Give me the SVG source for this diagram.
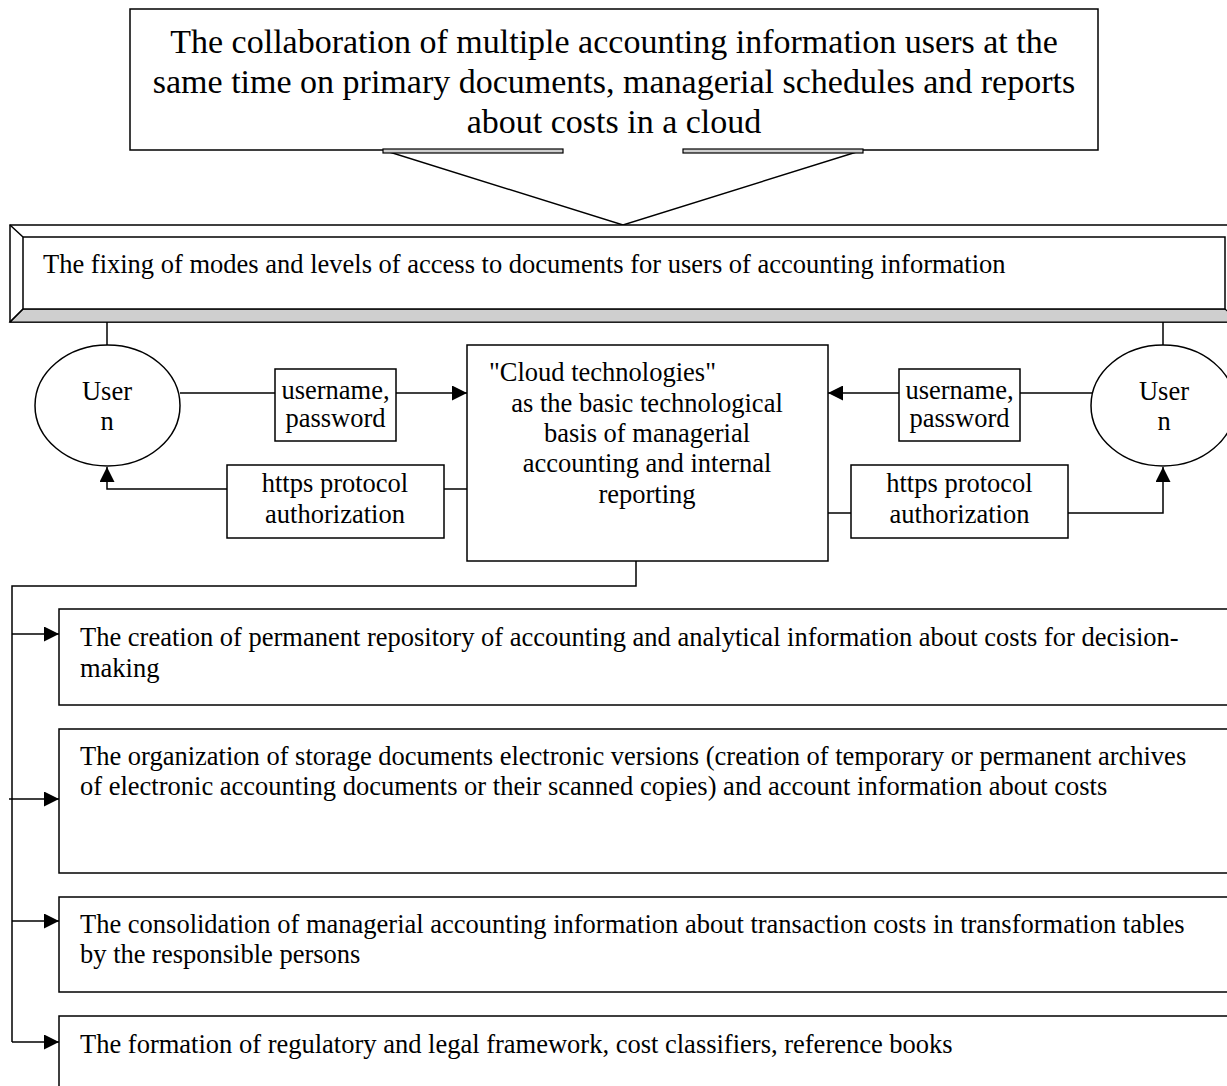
<svg xmlns="http://www.w3.org/2000/svg" width="1227" height="1086" viewBox="0 0 1227 1086">
<style>
  text { font-family: "Liberation Serif", "Times New Roman", serif; fill: #000; }
  .big { font-size: 34px; text-anchor: middle; }
  .body { font-size: 26.5px; }
  .mid { text-anchor: middle; }
  .box { fill: #fff; stroke: #000; stroke-width: 1.5; }
  .ln { fill: none; stroke: #000; stroke-width: 1.5; }
  .gray { fill: #cfcfcf; stroke: #000; stroke-width: 1.2; }
</style>
<defs>
  <marker id="arr" viewBox="0 0 15 15" refX="15" refY="7.5" markerWidth="15" markerHeight="15" markerUnits="userSpaceOnUse" orient="auto">
    <path d="M0,0 L15,7.5 L0,15 Z" fill="#000"/>
  </marker>
</defs>

<g id="callout">
  <path class="box" d="M130,9 H1098 V150 H863 L623,225 L383,150 H130 Z"/>
  <rect class="gray" x="383" y="149" width="180" height="4"/>
  <rect class="gray" x="683" y="149" width="180" height="4"/>
  <text class="big" x="614" y="53">The collaboration of multiple accounting information users at the</text>
  <text class="big" x="614" y="93">same time on primary documents, managerial schedules and reports</text>
  <text class="big" x="614" y="133">about costs in a cloud</text>
</g>

<g id="access">
  <rect class="box" x="10" y="225" width="1230" height="97"/>
  <path class="gray" d="M10,322 L23,309 H1225 L1240,322 Z"/>
  <rect class="box" x="23" y="237" width="1202" height="72"/>
  <path class="ln" d="M10,225 L23,237 M10,322 L23,309"/>
  <text class="body" x="43" y="273">The fixing of modes and levels of access to documents for users of accounting information</text>
</g>

<g id="connectors">
  <path class="ln" d="M107,322 V345"/>
  <path class="ln" d="M1163,322 V345"/>
  <path class="ln" d="M180,393 H275"/>
  <path class="ln" d="M396,393 H467" marker-end="url(#arr)"/>
  <path class="ln" d="M1092,393 H1020"/>
  <path class="ln" d="M899,393 H828" marker-end="url(#arr)"/>
  <path class="ln" d="M467,489 H444"/>
  <path class="ln" d="M227,489 H107 V467" marker-end="url(#arr)"/>
  <path class="ln" d="M828,513 H851"/>
  <path class="ln" d="M1068,513 H1163 V467" marker-end="url(#arr)"/>
  <path class="ln" d="M636,561 V586 H12 V1042"/>
  <path class="ln" d="M12,634 H59" marker-end="url(#arr)"/>
  <path class="ln" d="M9,799 H59" marker-end="url(#arr)"/>
  <path class="ln" d="M12,921 H59" marker-end="url(#arr)"/>
  <path class="ln" d="M12,1042 H59" marker-end="url(#arr)"/>
</g>

<g id="user-left">
  <ellipse class="box" cx="107.5" cy="405.5" rx="72.5" ry="60.5"/>
  <text class="body mid" x="107" y="400">User</text>
  <text class="body mid" x="107" y="430">n</text>
</g>

<g id="user-right">
  <ellipse class="box" cx="1163" cy="405.5" rx="72" ry="60.5"/>
  <text class="body mid" x="1164" y="400">User</text>
  <text class="body mid" x="1164" y="430">n</text>
</g>

<g id="login-left">
  <rect class="box" x="275" y="369" width="121" height="72"/>
  <text class="body mid" x="335.5" y="399">username,</text>
  <text class="body mid" x="335.5" y="427">password</text>
</g>

<g id="login-right">
  <rect class="box" x="899" y="369" width="121" height="72"/>
  <text class="body mid" x="959.5" y="399">username,</text>
  <text class="body mid" x="959.5" y="427">password</text>
</g>

<g id="https-left">
  <rect class="box" x="227" y="465" width="217" height="73"/>
  <text class="body mid" x="335" y="492">https protocol</text>
  <text class="body mid" x="335" y="523">authorization</text>
</g>

<g id="https-right">
  <rect class="box" x="851" y="465" width="217" height="73"/>
  <text class="body mid" x="959.5" y="492">https protocol</text>
  <text class="body mid" x="959.5" y="523">authorization</text>
</g>

<g id="cloud">
  <rect class="box" x="467" y="345" width="361" height="216"/>
  <text class="body" x="489" y="381">"Cloud technologies"</text>
  <text class="body mid" x="647" y="412">as the basic technological</text>
  <text class="body mid" x="647" y="442">basis of managerial</text>
  <text class="body mid" x="647" y="472">accounting and internal</text>
  <text class="body mid" x="647" y="503">reporting</text>
</g>

<g id="repository">
  <rect class="box" x="59" y="609" width="1180" height="96"/>
  <text class="body" x="80" y="646">The creation of permanent repository of accounting and analytical information about costs for decision-</text>
  <text class="body" x="80" y="677">making</text>
</g>

<g id="storage">
  <rect class="box" x="59" y="729" width="1180" height="144"/>
  <text class="body" x="80" y="765">The organization of storage documents electronic versions (creation of temporary or permanent archives</text>
  <text class="body" x="80" y="795">of electronic accounting documents or their scanned copies) and account information about costs</text>
</g>

<g id="consolidation">
  <rect class="box" x="59" y="897" width="1180" height="95"/>
  <text class="body" x="80" y="933">The consolidation of managerial accounting information about transaction costs in transformation tables</text>
  <text class="body" x="80" y="963">by the responsible persons</text>
</g>

<g id="framework">
  <rect class="box" x="59" y="1016" width="1180" height="90"/>
  <text class="body" x="80" y="1053">The formation of regulatory and legal framework, cost classifiers, reference books</text>
</g>
</svg>
